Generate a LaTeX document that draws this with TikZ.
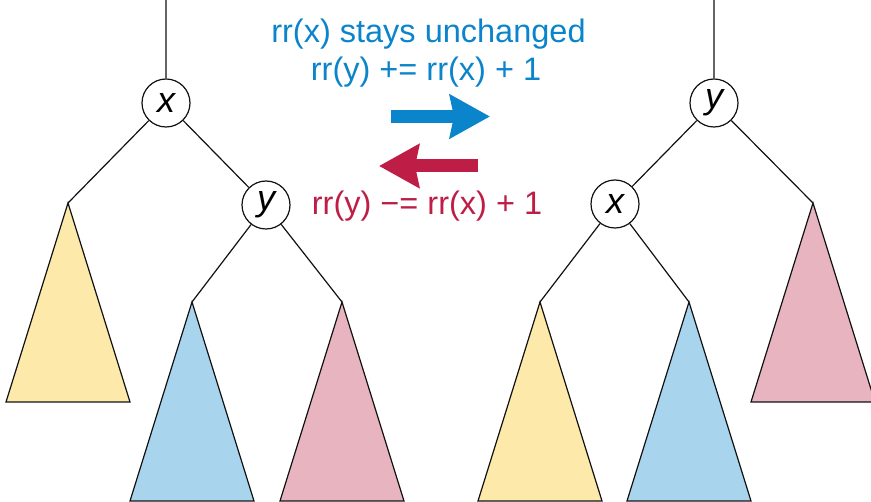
\documentclass[tikz,border=0pt]{standalone}
\usepackage{fontspec}
\setmainfont{Liberation Sans}
\usepackage{xcolor}
\usepackage{tikz}
\usetikzlibrary{arrows.meta}
\definecolor{INK}{HTML}{111111}
\definecolor{UP}{HTML}{0A84CA}
\definecolor{DOWN}{HTML}{BE1E46}
\definecolor{YEL}{HTML}{FDE9A9}
\definecolor{BLU}{HTML}{A9D4EE}
\definecolor{PNK}{HTML}{E8B4C0}

\begin{document}
\begin{tikzpicture}[
    x=1pt, y=-1pt,
    key/.style={circle, draw=INK, fill=white, line width=1.2pt, minimum size=48pt, inner sep=0pt, font=\fontsize{36}{36}\selectfont\itshape},
    link/.style={draw=INK, line width=1.2pt},
    subtree/.style={draw=INK, line width=1.2pt, line join=miter},
    rule/.style={font=\fontsize{32.5}{32.5}\selectfont, anchor=base},
    bigarrow/.style={line width=13pt, -{Stealth[length=40pt, width=43pt, inset=4pt]}},
  ]
  \useasboundingbox (0,0) rectangle (871,502);

  % left tree
  \coordinate (topL) at (166,0);
  \node[key] (xL) at (166,103) {x};
  \node[key] (yL) at (266,205) {y};
  \coordinate (aL) at (68,203);
  \coordinate (bL) at (192,302);
  \coordinate (cL) at (342,302);
  \draw[link] (topL) -- (xL) (xL) -- (aL) (xL) -- (yL) (yL) -- (bL) (yL) -- (cL);

  % right tree
  \coordinate (topR) at (714,0);
  \node[key] (yR) at (714,103) {y};
  \node[key] (xR) at (615,204) {x};
  \coordinate (aR) at (540,302);
  \coordinate (bR) at (689,302);
  \coordinate (cR) at (813,203);
  \draw[link] (topR) -- (yR) (yR) -- (xR) (yR) -- (cR) (xR) -- (aR) (xR) -- (bR);

  % subtrees
  \foreach \apex/\col in {aL/YEL, bL/BLU, cL/PNK, aR/YEL, bR/BLU, cR/PNK} {
    \draw[subtree, fill=\col] (\apex) -- ++(-62,199) -- ++(124,0) -- cycle;
  }

  % rotations
  \node[rule, text=UP] (keep) at (428.5,42.3) {rr(x) stays unchanged};
  \node[rule, text=UP] (plus) at (426,80.5) {rr(y) += rr(x) + 1};
  \coordinate (fwdS) at (391,116.5);
  \coordinate (fwdE) at (490,116.5);
  \draw[bigarrow, UP] (fwdS) -- (fwdE);
  \coordinate (bckS) at (478,166);
  \coordinate (bckE) at (379,166);
  \draw[bigarrow, DOWN] (bckS) -- (bckE);
  \node[rule, text=DOWN] (minus) at (427,215) {rr(y) −= rr(x) + 1};

\end{tikzpicture}
\end{document}
